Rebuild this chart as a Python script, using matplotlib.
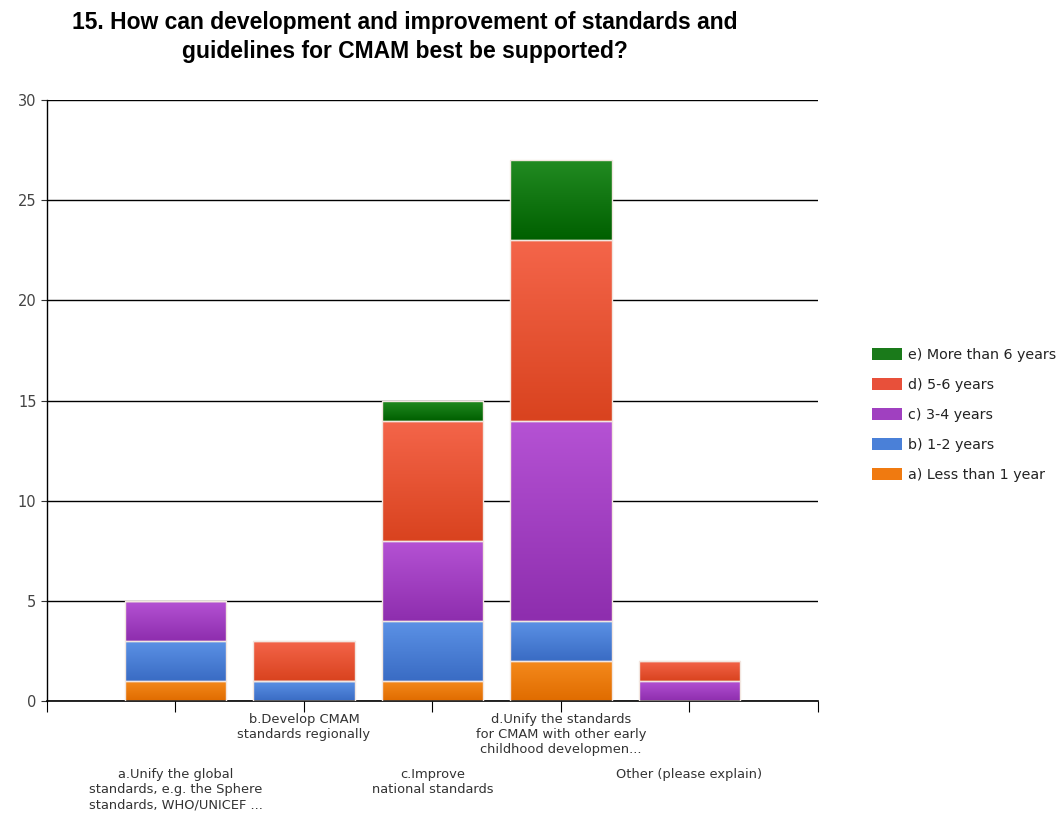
import numpy as np
import matplotlib
matplotlib.use("Agg")
import matplotlib.pyplot as plt
from matplotlib.colors import LinearSegmentedColormap
from matplotlib.patches import Patch

categories = [
    "a.Unify the global\nstandards, e.g. the Sphere\nstandards, WHO/UNICEF ...",
    "b.Develop CMAM\nstandards regionally",
    "c.Improve\nnational standards",
    "d.Unify the standards\nfor CMAM with other early\nchildhood developmen...",
    "Other (please explain)",
]
series = ["a) Less than 1 year", "b) 1-2 years", "c) 3-4 years",
          "d) 5-6 years", "e) More than 6 years"]
less_1 = [1, 0, 1, 2, 0]
y1_2 = [2, 1, 3, 2, 0]
y3_4 = [2, 0, 4, 10, 1]
y5_6 = [0, 2, 6, 9, 1]
more_6 = [0, 0, 1, 4, 0]
values = [less_1, y1_2, y3_4, y5_6, more_6]

# (top colour, bottom colour, legend colour)
shades = [
    ("#f58a1c", "#e06c00", "#f07a10"),
    ("#5c92e6", "#3a6cc4", "#4a80d8"),
    ("#b552d4", "#8e2eae", "#a040c0"),
    ("#f4654a", "#d9431f", "#e8503a"),
    ("#228b22", "#006000", "#1a7a1a"),
]

fig = plt.figure(figsize=(10.58, 8.15), dpi=100)
ax = fig.add_axes([0.0444, 0.140, 0.7286, 0.737])

x = np.arange(1, len(categories) + 1)
bottom = np.zeros(len(categories))
for vals, (top_c, bot_c, _) in zip(values, shades):
    bars = ax.bar(x, vals, width=0.79, bottom=bottom, facecolor="none",
                  edgecolor="#f2e6e0", linewidth=1.0, zorder=3)
    cmap = LinearSegmentedColormap.from_list("g", [bot_c, top_c])
    grad = np.linspace(0, 1, 64).reshape(-1, 1)
    for patch in bars.patches:
        if patch.get_height() <= 0:
            continue
        x0, y0 = patch.get_x(), patch.get_y()
        im = ax.imshow(grad, cmap=cmap, origin="lower", aspect="auto",
                       extent=(x0, x0 + patch.get_width(), y0, y0 + patch.get_height()),
                       interpolation="bilinear", zorder=2)
        im.set_clip_path(patch)
    bottom += np.array(vals)

ax.set_xlim(0, 6)
ax.set_ylim(0, 30)
ax.set_yticks(range(0, 31, 5))
ax.yaxis.grid(True, color="black", linewidth=1.0, zorder=1)
ax.set_axisbelow(True)
for s in ["top", "right"]:
    ax.spines[s].set_visible(False)
ax.spines["left"].set_linewidth(1.0)
ax.spines["bottom"].set_linewidth(1.2)
ax.tick_params(axis="y", labelsize=10.5, length=4, colors="#333333", labelcolor="#444444")
ax.set_xticks(range(0, 7))
ax.set_xticklabels([])
ax.tick_params(axis="x", length=8, direction="out")

# alternating category labels below the axis
for i, label in enumerate(categories):
    offset = 9 if i % 2 == 1 else 48.5
    ax.annotate(label, xy=(x[i], 0), xycoords="data",
                xytext=(0, -offset), textcoords="offset points",
                ha="center", va="top", fontsize=9.4, color="#333333",
                linespacing=1.2, annotation_clip=False)

fig.text(0.383, 0.986,
         "15. How can development and improvement of standards and\nguidelines for CMAM best be supported?",
         ha="center", va="top", fontsize=16.5, fontweight="bold",
         family="Liberation Sans", linespacing=1.3)

handles = [Patch(facecolor=c[2], edgecolor="none") for c in shades][::-1]
fig.legend(handles, series[::-1], loc="center left",
           bbox_to_anchor=(0.812, 0.491), frameon=False, fontsize=10.3,
           handlelength=2.1, handleheight=0.9, labelspacing=1.12,
           handletextpad=0.45, labelcolor="#222222")

fig.savefig("out.png", dpi=100)
